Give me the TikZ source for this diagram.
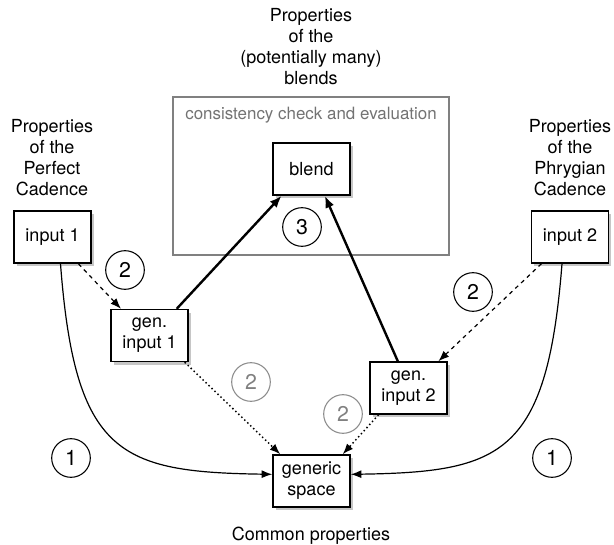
\documentclass[tikz,border=0pt]{standalone}
\usepackage{fontspec}
\setmainfont{TeX Gyre Heros}
\usetikzlibrary{arrows.meta,shadows}

\begin{document}
\begin{tikzpicture}[x=0.75pt,y=-0.75pt]

\tikzstyle{box}=[draw=black,fill=white,line width=1.1pt,minimum width=57.75pt,minimum height=39pt,inner sep=1pt,align=center,font=\fontsize{13.5}{15.75}\selectfont,drop shadow={shadow xshift=2pt,shadow yshift=-2.5pt,opacity=0.45}]
\tikzstyle{num}=[circle,draw=black,line width=0.8pt,minimum size=29pt,inner sep=0pt,font=\fontsize{16}{16}\selectfont]
\tikzstyle{numgray}=[num,draw=black!45,text=black!50]
\tikzstyle{caption}=[align=center,font=\fontsize{13.5}{15.75}\selectfont]

\useasboundingbox (0,0) rectangle (614,545);

\draw[black!50,line width=1pt] (173,97) rectangle (449,255);
\node[caption,text=black!55,font=\fontsize{12.7}{15}\selectfont] (check) at (311,115) {consistency check and evaluation};

\node[box] (blend) at (311.5,169) {blend};
\node[box] (in1) at (52.5,237) {input 1};
\node[box] (in2) at (570,237) {input 2};
\node[box] (gi1) at (149.5,335.5) {gen.\\input 1};
\node[box] (gi2) at (408.5,388) {gen.\\input 2};
\node[box] (gs) at (311.5,481) {generic\\space};

\node[caption] (t1) at (52,158) {Properties\\of the\\Perfect\\Cadence};
\node[caption] (t2) at (570,158) {Properties\\of the\\Phrygian\\Cadence};
\node[caption] (t3) at (311,47) {Properties\\of the\\(potentially many)\\blends};
\node[caption] (t4) at (311,536) {Common properties};

\node[num] (c3) at (302,227) {3};
\node[num] (c2a) at (125,270) {2};
\node[num] (c2b) at (473,292) {2};
\node[numgray] (c2c) at (251,382) {2};
\node[numgray] (c2d) at (343,414) {2};
\node[num] (c1a) at (71,458) {1};
\node[num] (c1b) at (552,458) {1};

\draw[line width=1.8pt,-{Latex[length=9pt,width=7pt]}] ([xshift=-9pt]gi1.north east) -- ([xshift=7pt]blend.south west);
\draw[line width=1.8pt,-{Latex[length=9pt,width=7pt]}] ([xshift=-8pt]gi2.north) -- ([xshift=10pt]blend.south);

\draw[line width=0.9pt,dashed,-{Latex[length=8pt,width=6pt]}] ([xshift=-10pt]in1.south east) -- ([xshift=8pt]gi1.north west);
\draw[line width=0.9pt,dashed,-{Latex[length=8pt,width=6pt]}] ([xshift=8pt]in2.south west) -- ([xshift=-7pt]gi2.north east);

\draw[line width=1.1pt,dotted,-{Latex[length=8pt,width=6pt]}] ([xshift=-3pt]gi1.south east) -- ([xshift=6pt]gs.north west);
\draw[line width=1.1pt,dotted,-{Latex[length=8pt,width=6pt]}] ([xshift=7pt]gi2.south west) -- ([xshift=-6pt]gs.north east);

\draw[line width=0.9pt,-{Latex[length=8pt,width=6pt]}] ([xshift=6pt]in1.south) .. controls (75,455) and (120,472) .. ([yshift=5pt]gs.west);
\draw[line width=0.9pt,-{Latex[length=8pt,width=6pt]}] ([xshift=-6pt]in2.south) .. controls (547,455) and (502,472) .. ([yshift=5pt]gs.east);

\end{tikzpicture}
\end{document}
